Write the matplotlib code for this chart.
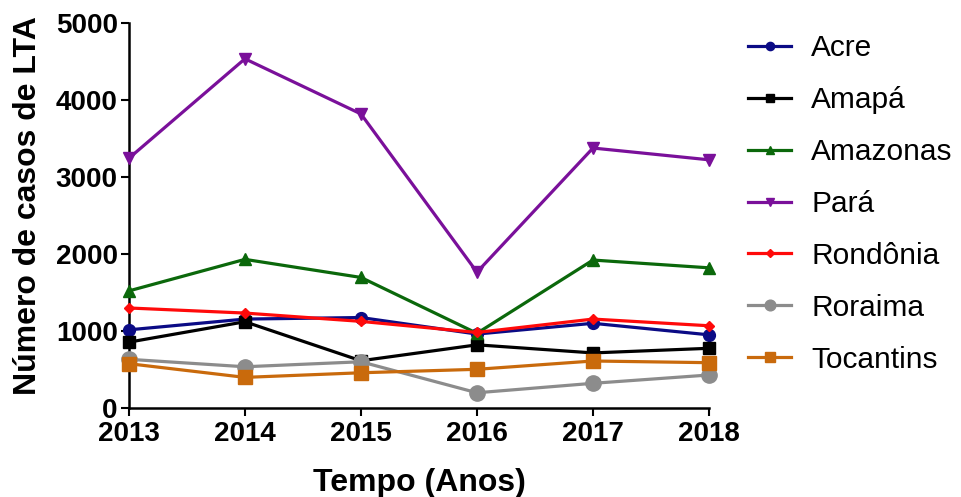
"""
Casos de LTA por estado da Região Norte, 2013-2018
"""

import matplotlib
matplotlib.use('Agg')
import matplotlib.pyplot as plt

# Daten
anos = [2013, 2014, 2015, 2016, 2017, 2018]
acre = [1010, 1150, 1170, 955, 1095, 945]
amapa = [850, 1115, 608, 815, 710, 770]
amazonas = [1516, 1926, 1691, 965, 1917, 1816]
para = [3240, 4533, 3816, 1760, 3373, 3220]
rondonia = [1294, 1228, 1120, 976, 1150, 1063]
roraima = [627, 530, 595, 192, 315, 423]
tocantins = [570, 392, 452, 497, 605, 583]

estados = ['Acre', 'Amapá', 'Amazonas', 'Pará', 'Rondônia', 'Roraima', 'Tocantins']
series = [acre, amapa, amazonas, para, rondonia, roraima, tocantins]
cores = ['#0b0b85', '#000000', '#0b680b', '#7a109a', '#ff0a0a', '#8c8c8c', '#c96a0c']
marcadores = ['o', 's', '^', 'v', 'D', 'o', 's']
tamanhos = [8.5, 8.5, 9, 9, 5.5, 11, 10.5]

plt.rcParams['font.family'] = ['Liberation Sans', 'DejaVu Sans']

fig = plt.figure(figsize=(9.62, 4.97), dpi=100)
ax = fig.add_axes([0.134, 0.180, 0.603, 0.774])

for nome, valores, cor, m, ms in zip(estados, series, cores, marcadores, tamanhos):
    ax.plot(anos, valores, color=cor, marker=m, markersize=ms, linewidth=2.3,
            label=nome, clip_on=False, zorder=3)

ax.set_xlim(2013, 2018)
ax.set_ylim(0, 5000)
ax.set_xticks(anos)
ax.set_yticks([0, 1000, 2000, 3000, 4000, 5000])

for lado in ['top', 'right']:
    ax.spines[lado].set_visible(False)
for lado in ['left', 'bottom']:
    ax.spines[lado].set_linewidth(1.8)

ax.tick_params(axis='both', length=6, width=1.5, labelsize=20)
ax.tick_params(axis='y', pad=2)
ax.tick_params(axis='x', pad=4)
for lbl in ax.get_xticklabels() + ax.get_yticklabels():
    lbl.set_fontweight('bold')

ax.set_xlabel('Tempo (Anos)', fontsize=23, fontweight='bold', labelpad=15)
ax.set_ylabel('Número de casos de LTA', fontsize=23, fontweight='bold')
ax.yaxis.set_label_coords(-0.148, 0.525)

leg = fig.legend(loc='upper left', bbox_to_anchor=(0.75, 0.985), frameon=False,
                 fontsize=21.5, handlelength=1.42, handletextpad=0.68,
                 labelspacing=0.8, markerscale=0.7)

fig.savefig('out.png', dpi=100)
